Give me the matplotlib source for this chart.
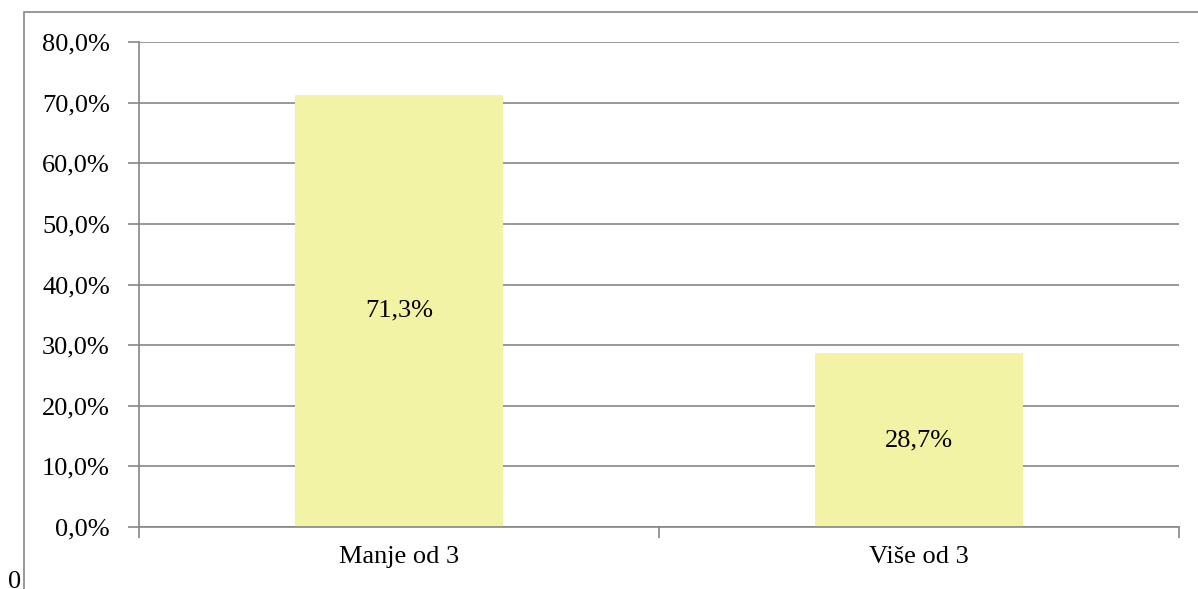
import matplotlib.pyplot as plt
from matplotlib.patches import Rectangle
from matplotlib.ticker import FuncFormatter

categories = ["Manje od 3", "Više od 3"]
values = [71.3, 28.7]
yticks = [0, 10, 20, 30, 40, 50, 60, 70, 80]

W, H = 1198, 589
fig = plt.figure(figsize=(W / 100, H / 100), dpi=100)
plt.rcParams['font.family'] = ['Liberation Serif', 'DejaVu Serif']
FS = 19

# plot area in pixels
left, right, top, bottom = 139, 1179, 42, 527
ax = fig.add_axes([left / W, 1 - bottom / H, (right - left) / W, (bottom - top) / H])

grid_c = "#868686"
x = range(len(categories))
ax.bar(x, values, width=0.4, color="#F3F3A5", zorder=2)
for xi, v in zip(x, values):
    ax.text(xi, v / 2, f"{v:.1f}%".replace(".", ","), ha="center", va="center", fontsize=FS, zorder=3)

ax.set_xlim(-0.5, len(categories) - 0.5)
ax.set_ylim(0, 80)
ax.set_yticks(yticks)
ax.yaxis.set_major_formatter(FuncFormatter(lambda v, p: f"{v:.1f}%".replace(".", ",")))
ax.set_xticks(list(x))
ax.set_xticklabels(categories)
ax.set_xticks([-0.5, 0.5, 1.5], minor=True)
ax.tick_params(axis="x", which="major", length=0, pad=14, labelsize=FS)
ax.tick_params(axis="x", which="minor", length=8, width=1.2, color=grid_c)
ax.tick_params(axis="y", length=8, width=1.2, color=grid_c, pad=13, labelsize=FS)
ax.grid(axis="y", color=grid_c, lw=1.2, zorder=1)
for s in ["top", "right"]:
    ax.spines[s].set_visible(False)
for s in ["left", "bottom"]:
    ax.spines[s].set_color(grid_c)
    ax.spines[s].set_linewidth(1.2)

# outer chart border (extends past the image edge)
fig.patches.append(Rectangle((24 / W, -0.1), 1.2, 1 - 12 / H + 0.1, transform=fig.transFigure,
                             fill=False, edgecolor=grid_c, lw=1.2))
fig.text(8 / W, 1 - 571 / H, "0", fontsize=FS, ha="left", va="top")

fig.savefig("out.png", dpi=100)
